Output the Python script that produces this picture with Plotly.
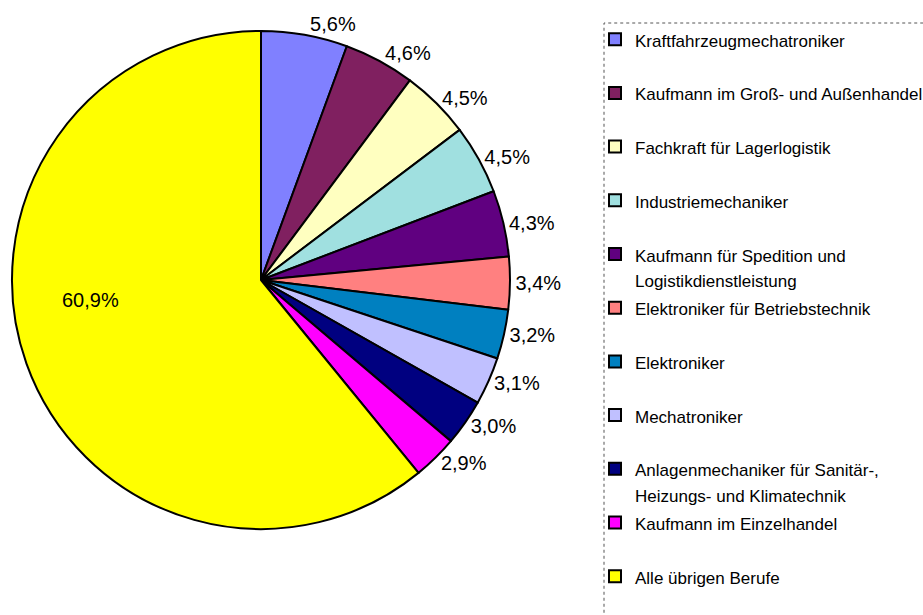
import plotly.graph_objects as go

# ---- data ----
categories = [
    "Kraftfahrzeugmechatroniker",
    "Kaufmann im Groß- und Außenhandel",
    "Fachkraft für Lagerlogistik",
    "Industriemechaniker",
    "Kaufmann für Spedition und<br>Logistikdienstleistung",
    "Elektroniker für Betriebstechnik",
    "Elektroniker",
    "Mechatroniker",
    "Anlagenmechaniker für Sanitär-,<br>Heizungs- und Klimatechnik",
    "Kaufmann im Einzelhandel",
    "Alle übrigen Berufe",
]
shares = [5.6, 4.6, 4.5, 4.5, 4.3, 3.4, 3.2, 3.1, 3.0, 2.9, 60.9]
colors = [
    "#8080FF", "#802060", "#FFFFC0", "#A0E0E0", "#600080", "#FF8080",
    "#0080C0", "#C0C0FF", "#000080", "#FF00FF", "#FFFF00",
]

W, H = 923, 615
FONT = "Liberation Sans, Arial, sans-serif"

# legend labels: every entry occupies two lines (second may be blank)
def legend_label(name):
    lines = name.split("<br>")
    while len(lines) < 2:
        lines.append("\u00a0")
    return "<br>".join(f'<span style="font-size:17px">{ln}</span>' for ln in lines)

labels = [legend_label(c) for c in categories]

n = len(shares)
textpos = ["outside"] * (n - 1) + ["none"]

fig = go.Figure(
    go.Pie(
        labels=labels,
        values=shares,
        sort=False,
        direction="clockwise",
        rotation=0,
        marker=dict(colors=colors, line=dict(color="#000000", width=2)),
        texttemplate="%{percent:.1%}",
        textposition=textpos,
        outsidetextfont=dict(family=FONT, size=20, color="#000000"),
        domain=dict(x=[12 / W, 510 / W], y=[1 - 529 / H, 1 - 31 / H]),
        hoverinfo="label+percent",
        automargin=False,
    )
)

total = sum(shares)
big_label = f"{shares[-1] / total * 100:.1f}".replace(".", ",") + "%"
fig.add_annotation(
    x=60 / W, y=1 - 300 / H, xref="paper", yref="paper",
    text=big_label, showarrow=False,
    font=dict(family=FONT, size=20, color="#000000"),
)

# dashed frame around the legend
fig.add_shape(
    type="rect", xref="paper", yref="paper",
    x0=604 / W, x1=1.02, y0=-0.02, y1=1 - 23 / H,
    line=dict(color="#555555", width=1, dash="dot"),
    fillcolor="rgba(0,0,0,0)",
)

fig.update_layout(
    width=W, height=H,
    margin=dict(l=0, r=0, t=0, b=0, autoexpand=False),
    paper_bgcolor="#FFFFFF",
    plot_bgcolor="#FFFFFF",
    separators=",.",
    font=dict(family=FONT, color="#000000"),
    showlegend=True,
    legend=dict(
        x=595 / W, xanchor="left",
        y=1 - 20 / H, yanchor="top",
        font=dict(family=FONT, size=19.5, color="#000000"),
        valign="top",
        bgcolor="rgba(0,0,0,0)",
        borderwidth=0,
        traceorder="normal",
    ),
)

fig.write_html(
    "out.html",
    config={"displayModeBar": False},
    post_script="document.body.style.margin='0';",
)
